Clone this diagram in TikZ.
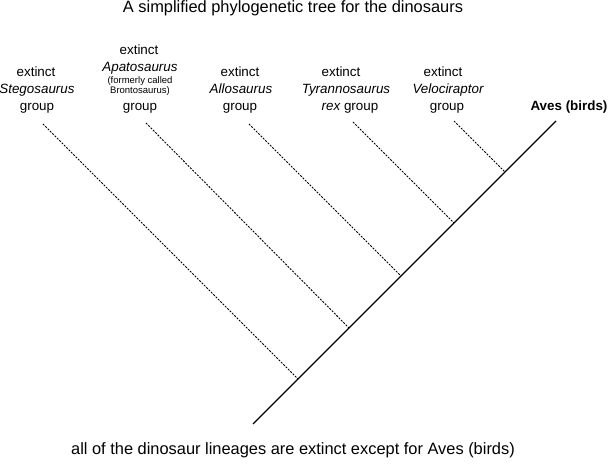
\documentclass[tikz,border=0pt]{standalone}
\usepackage{fontspec}
\setmainfont{Liberation Sans}
\begin{document}
\begin{tikzpicture}[x=1pt,y=-1pt,
  lbl/.style={anchor=base,inner sep=0pt,font=\fontsize{13.4}{15}\selectfont},
  biglbl/.style={anchor=base,inner sep=0pt,font=\fontsize{16.4}{18}\selectfont},
  smalllbl/.style={anchor=base,inner sep=0pt,font=\fontsize{9.5}{11}\selectfont},
  stem/.style={line width=1.4pt},
  branch/.style={line width=0.9pt,dash pattern=on 2pt off 1.3pt}]
\useasboundingbox (0,0) rectangle (608,465);
% title and footer
\node[biglbl] (title) at (293,13) {A simplified phylogenetic tree for the dinosaurs};
\node[biglbl] (foot) at (293,454) {all of the dinosaur lineages are extinct except for Aves (birds)};
% Stegosaurus
\node[lbl] (s1) at (36,77) {extinct};
\node[lbl] (s2) at (37,94) {\itshape Stegosaurus};
\node[lbl] (s3) at (37,111) {group};
% Apatosaurus
\node[lbl] (a1) at (139,55) {extinct};
\node[lbl] (a2) at (140,72) {\itshape Apatosaurus};
\node[smalllbl] (a3) at (140,84) {(formerly called};
\node[smalllbl] (a4) at (140,94) {Brontosaurus)};
\node[lbl] (a5) at (140,111) {group};
% Allosaurus
\node[lbl] (l1) at (240,77) {extinct};
\node[lbl] (l2) at (241,94) {\itshape Allosaurus};
\node[lbl] (l3) at (240,111) {group};
% Tyrannosaurus
\node[lbl] (t1) at (341,77) {extinct};
\node[lbl] (t2) at (346,94) {\itshape Tyrannosaurus};
\node[lbl] (t3) at (350,111) {\itshape rex\upshape\ group};
% Velociraptor
\node[lbl] (v1) at (443,77) {extinct};
\node[lbl] (v2) at (448,94) {\itshape Velociraptor};
\node[lbl] (v3) at (447,111) {group};
% Aves
\node[lbl,font=\fontsize{13.4}{15}\selectfont\bfseries] (av) at (569,111) {Aves (birds)};
% tree coordinates
\coordinate (root) at (253,424);
\coordinate (top) at (556,121);
\coordinate (js) at (298,379);
\coordinate (ja) at (349,328);
\coordinate (jl) at (401,276);
\coordinate (jt) at (454,223);
\coordinate (jv) at (505,172);
\coordinate (es) at (43,124);
\coordinate (ea) at (146,123);
\coordinate (el) at (249,124);
\coordinate (et) at (353,122);
\coordinate (ev) at (454,121);
\draw[stem] (root) -- (top);
\draw[branch] (es) -- (js);
\draw[branch] (ea) -- (ja);
\draw[branch] (el) -- (jl);
\draw[branch] (et) -- (jt);
\draw[branch] (ev) -- (jv);
\end{tikzpicture}
\end{document}
